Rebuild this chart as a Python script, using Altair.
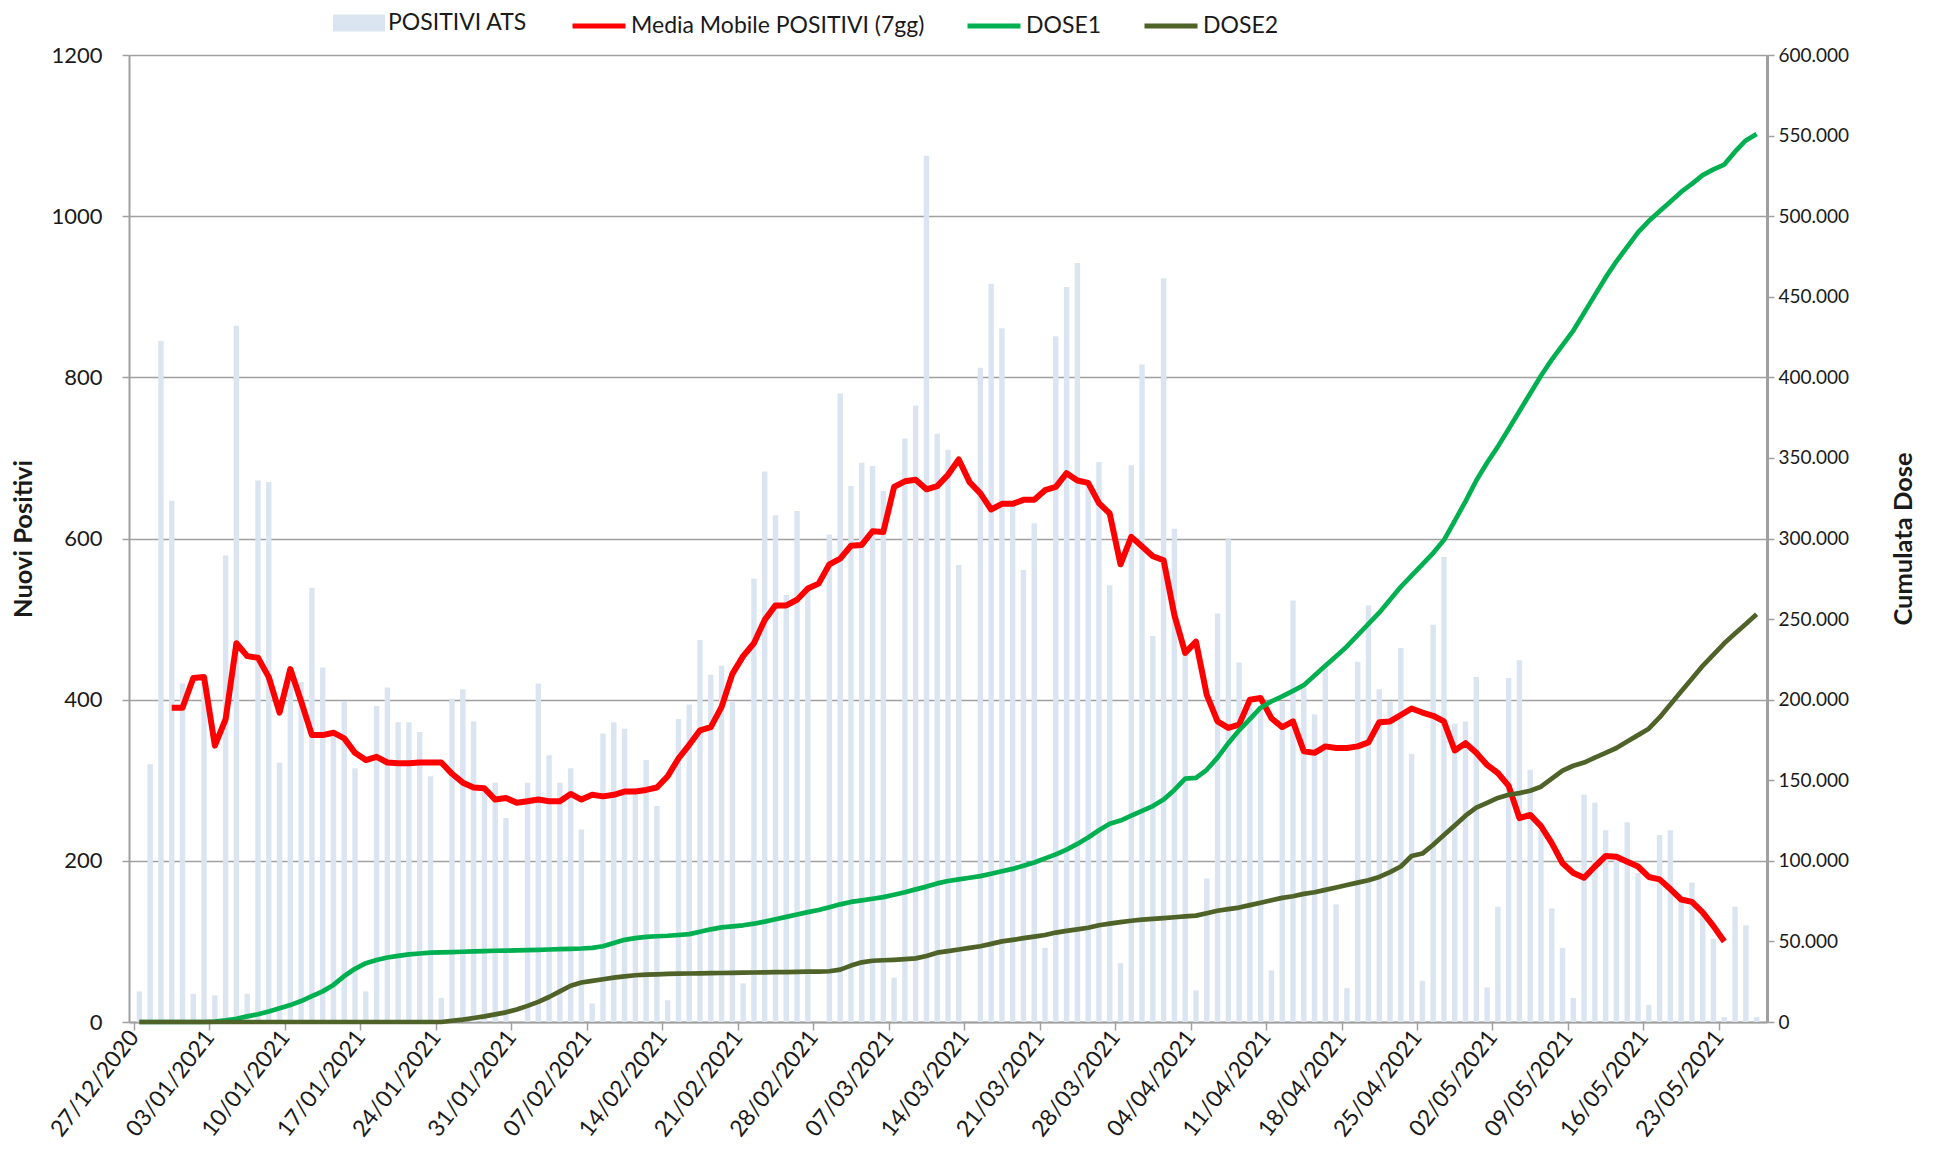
import altair as alt
import pandas as pd
from datetime import date, timedelta

FONT = "Lato"

# ---- categories: one bar per day from 27/12/2020 to 26/05/2021
start = date(2020, 12, 27)
giorni = [(start + timedelta(days=i)).strftime("%d/%m/%Y") for i in range(151)]

# ---- daily new positives (left axis)
positivi = [
    38, 320, 845, 647, 420, 35, 428, 33, 579, 864,
    35, 672, 670, 322, 438, 422, 539, 440, 355, 398,
    315, 38, 392, 415, 372, 372, 360, 305, 30, 401,
    413, 373, 290, 297, 253, 0, 297, 420, 331, 297,
    315, 239, 23, 358, 372, 364, 285, 325, 268, 27,
    376, 394, 474, 431, 442, 397, 48, 550, 683, 629,
    530, 634, 538, 0, 605, 780, 665, 694, 690, 659,
    55, 724, 765, 1075, 730, 710, 567, 0, 812, 916,
    861, 640, 561, 619, 92, 851, 912, 942, 668, 695,
    542, 73, 691, 816, 479, 923, 612, 458, 39, 178,
    507, 599, 446, 400, 392, 64, 397, 523, 415, 382,
    439, 146, 42, 447, 517, 413, 397, 464, 333, 51,
    493, 577, 370, 373, 428, 43, 143, 427, 449, 313,
    238, 141, 92, 30, 282, 272, 238, 205, 248, 185,
    21, 232, 238, 153, 173, 136, 103, 6, 143, 120,
    6,
]

# ---- 7-day moving average, from 30/12/2020 to 23/05/2021 (left axis)
media_mobile = [
    390, 390, 427, 428, 343, 376, 470, 454, 452, 428,
    384, 438, 398, 356, 356, 359, 352, 334, 325, 329,
    322, 321, 321, 322, 322, 322, 308, 297, 291, 290,
    276, 278, 272, 274, 276, 274, 274, 283, 276, 282,
    280, 282, 286, 286, 288, 291, 305, 327, 344, 362,
    366, 391, 432, 454, 470, 499, 517, 517, 524, 538,
    544, 568, 575, 591, 592, 609, 608, 664, 671, 673,
    661, 665, 679, 698, 670, 656, 636, 643, 643, 648,
    648, 660, 664, 681, 672, 669, 644, 631, 568, 602,
    590, 578, 573, 505, 458, 472, 406, 373, 365, 369,
    400, 402, 377, 366, 373, 336, 334, 342, 340, 340,
    342, 347, 372, 373, 381, 389, 384, 380, 373, 337,
    346, 334, 319, 309, 293, 253, 257, 243, 222, 197,
    185, 179, 193, 206, 205, 199, 193, 180, 177, 165,
    152, 149, 136, 119, 100,
]
mm_start = 3

# ---- cumulative doses (right axis)
dose1 = [
    0, 0, 0, 0, 0, 0, 0, 200, 1000, 2000,
    3500, 4800, 6500, 8500, 10500, 13000, 16000, 19000, 23000, 28500,
    33000, 36500, 38500, 40000, 41000, 42000, 42500, 43000, 43200, 43400,
    43600, 43800, 44000, 44200, 44300, 44500, 44600, 44800, 45000, 45200,
    45400, 45600, 46000, 47000, 49000, 51000, 52000, 52800, 53200, 53500,
    54000, 54500, 56000, 57500, 58700, 59300, 60000, 61000, 62300, 63800,
    65200, 66700, 68200, 69500, 71200, 73000, 74500, 75500, 76500, 77500,
    79000, 80500, 82300, 84000, 86000, 87500, 88500, 89500, 90500, 92000,
    93500, 95000, 97000, 99000, 101500, 104000, 107000, 110500, 114500, 119000,
    123000, 125000, 128000, 131000, 134000, 138000, 144000, 151000, 151500, 156500,
    164000, 173000, 181000, 188000, 195000, 199000, 202000, 205500, 209000, 215000,
    221000, 227000, 233000, 240000, 247000, 254000, 262000, 270000, 277000, 284000,
    291000, 299000, 311000, 323000, 336000, 347000, 357000, 368000, 379000, 390000,
    401000, 411000, 420000, 429000, 440000, 451000, 462000, 472000, 481000, 490000,
    497000, 503000, 509000, 515000, 520000, 525500, 529000, 532000, 540000, 547000,
    551000,
]
dose2 = [0] * 29 + [
    800, 1500, 2500, 3500, 4700, 6000, 7800, 10000, 12500, 15500,
    19000, 22500, 24500, 25500, 26500, 27500, 28300, 29000, 29400, 29600,
    29800, 30000, 30100, 30200, 30300, 30400, 30500, 30600, 30700, 30800,
    30900, 31000, 31100, 31200, 31300, 31500, 32500, 35000, 37000, 38000,
    38300, 38600, 39000, 39500, 41000, 43000, 44000, 45000, 46000, 47000,
    48500, 50000, 51000, 52000, 53000, 54000, 55500, 56500, 57500, 58500,
    60000, 61000, 62000, 62800, 63500, 64000, 64500, 65000, 65500, 66000,
    67500, 69000, 70000, 71000, 72500, 74000, 75500, 77000, 78000, 79500,
    80500, 82000, 83500, 85000, 86500, 88000, 90000, 93000, 96500, 103000,
    104500, 110000, 116000, 122000, 128000, 133000, 136000, 139000, 141000, 142000,
    143500, 146000, 151000, 156000, 159000, 161000, 164000, 167000, 170000, 174000,
    178000, 182000, 189000, 197000, 205000, 213000, 221000, 228000, 235000, 241000,
    247000, 253000,
]

S_BAR = "POSITIVI ATS"
S_MM = "Media Mobile POSITIVI (7gg)"
S_D1 = "DOSE1"
S_D2 = "DOSE2"

indice = list(range(len(giorni)))
df_bar = pd.DataFrame({"indice": indice, "giorno": giorni, "valore": positivi, "serie": S_BAR})
df_mm = pd.DataFrame({
    "indice": indice[mm_start:mm_start + len(media_mobile)],
    "valore": media_mobile,
    "serie": S_MM,
})
df_dose = pd.concat([
    pd.DataFrame({"indice": indice, "valore": dose1, "serie": S_D1}),
    pd.DataFrame({"indice": indice, "valore": dose2, "serie": S_D2}),
], ignore_index=True)

GRID = "#a0a0a0"
TXT = "#1a1a1a"

# axis labels read from the category list
label_lookup = "[" + ",".join("'" + g + "'" for g in giorni) + "][datum.value]"

x_enc = alt.X(
    "centro:Q",
    scale=alt.Scale(domain=[0, len(giorni)], nice=False, zero=False),
    axis=alt.Axis(
        values=indice[::7], labelExpr=label_lookup, labelAngle=-52,
        labelAlign="right", labelBaseline="middle", labelPadding=3,
        labelOverlap=False, labelBound=False, labelFlush=False,
        labelFont=FONT, labelFontSize=23, labelColor=TXT,
        tickColor=GRID, tickSize=8, tickWidth=1.5,
        domainColor=GRID, domainWidth=2, grid=False, title=None,
    ),
)

left_axis = alt.Axis(
    values=list(range(0, 1201, 200)), format="d", grid=True, gridColor=GRID, gridWidth=1.5,
    domainColor=GRID, domainWidth=2, tickColor=GRID, tickSize=7, tickWidth=1.5,
    labelFont=FONT, labelFontSize=22, labelColor=TXT, labelPadding=20,
    title="Nuovi Positivi", titleFont=FONT, titleFontSize=25.5, titleFontWeight="bold",
    titleColor=TXT, titlePadding=14,
)
left_scale = alt.Scale(domain=[0, 1200], nice=False)

LEG_Y = -58
stroke_scale = alt.Scale(domain=[S_MM, S_D1, S_D2], range=["#ff0000", "#00b050", "#4f6228"])
line_legend = alt.Legend(
    orient="none", legendX=441, legendY=LEG_Y, direction="horizontal", title=None,
    symbolType="M-1,0L1,0", symbolSize=2809, symbolStrokeWidth=5,
    labelFont=FONT, labelFontSize=23, labelColor=TXT, labelLimit=500,
    labelOffset=3, columnPadding=32,
)

centro = "datum.indice + 0.5"

bars = alt.Chart(df_bar).transform_calculate(centro=centro).mark_bar(width=5.4).encode(
    x=x_enc,
    y=alt.Y("valore:Q", scale=left_scale, axis=left_axis),
    fill=alt.Fill(
        "serie:N",
        scale=alt.Scale(domain=[S_BAR], range=["#dbe5f1"]),
        legend=alt.Legend(
            orient="none", legendX=204, legendY=LEG_Y, direction="horizontal", title=None,
            symbolType="M-1,-0.33L1,-0.33L1,0.33L-1,0.33Z", symbolSize=2704,
            symbolStrokeWidth=0,
            labelFont=FONT, labelFontSize=23, labelColor=TXT, labelOffset=3,
        ),
    ),
)

media = alt.Chart(df_mm).transform_calculate(centro=centro).mark_line(
    strokeWidth=6, strokeJoin="round"
).encode(
    x=x_enc,
    y=alt.Y("valore:Q", scale=left_scale, axis=left_axis),
    stroke=alt.Stroke("serie:N", scale=stroke_scale, legend=line_legend),
)

sinistra = alt.layer(bars, media)

dosi = alt.Chart(df_dose).transform_calculate(centro=centro).mark_line(
    strokeWidth=4.7, strokeJoin="round"
).encode(
    x=x_enc,
    y=alt.Y(
        "valore:Q",
        scale=alt.Scale(domain=[0, 600000], nice=False),
        axis=alt.Axis(
            orient="right", values=list(range(0, 600001, 50000)), grid=False,
            labelExpr="replace(format(datum.value, ','), ',', '.')",
            domainColor=GRID, domainWidth=3, tickColor=GRID, tickSize=7, tickWidth=1.5,
            labelFont=FONT, labelFontSize=19, labelColor=TXT, labelPadding=4,
            title="Cumulata Dose", titleFont=FONT, titleFontSize=25.5, titleFontWeight="bold",
            titleColor=TXT, titleAngle=270, titlePadding=68,
        ),
    ),
    stroke=alt.Stroke("serie:N", scale=stroke_scale, legend=line_legend),
    detail="serie:N",
)

chart = alt.layer(sinistra, dosi).resolve_scale(y="independent").properties(
    width=1638, height=967,
    autosize=alt.AutoSizeParams(type="none"),
    padding={"left": 121, "top": 47, "right": 150, "bottom": 133},
    background="white",
).configure_view(stroke=None)

chart.save("out.html", embed_options={"renderer": "svg", "actions": False})
